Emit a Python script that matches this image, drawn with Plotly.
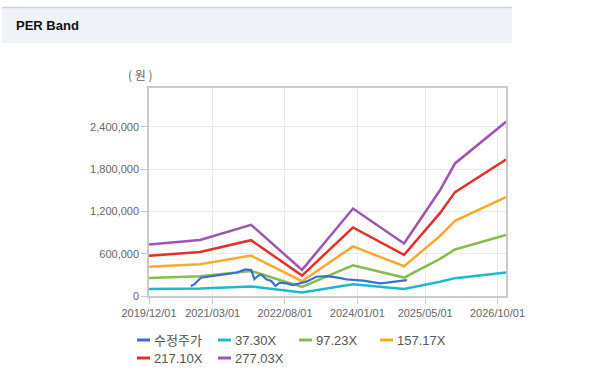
import plotly.graph_objects as go

# ---------------- data ----------------
band_dates = ["2019-12-01", "2020-12-01", "2021-12-01", "2022-12-01", "2023-12-01",
              "2024-12-01", "2025-08-15", "2025-12-01", "2026-12-01"]
per_37_30 = [98300, 107000, 136000, 49800, 167000, 100300, 202000, 253100, 332600]
per_97_23 = [256200, 279000, 354500, 129900, 435200, 261500, 526500, 659800, 866900]
per_157_17 = [414200, 451000, 573000, 209900, 703500, 422700, 851000, 1066600, 1401300]
per_217_10 = [572100, 623000, 791500, 290000, 971800, 583800, 1175500, 1473300, 1935700]
per_277_03 = [730000, 795000, 1010000, 370000, 1240000, 745000, 1500000, 1880000, 2470000]

price_dates = ["2020-09-26", "2020-10-20", "2020-12-07", "2021-03-13", "2021-05-11",
               "2021-08-16", "2021-10-22", "2021-12-02", "2021-12-25", "2022-01-18",
               "2022-02-12", "2022-03-20", "2022-04-25", "2022-05-25", "2022-06-23",
               "2022-08-10", "2022-09-27", "2022-11-14", "2023-01-01", "2023-03-14",
               "2023-05-25", "2023-08-05", "2023-10-16", "2024-02-13", "2024-06-12",
               "2024-07-30", "2024-12-21"]
price_values = [141000, 165000, 259000, 283000, 307000, 330000, 378000, 368000, 240000,
                283000, 307000, 236000, 212000, 141000, 189000, 180000, 156000, 180000,
                203000, 273000, 283000, 264000, 236000, 217000, 179000, 189000, 226000]

series_names = ["수정주가", "37.30X", "97.23X", "157.17X", "217.10X", "277.03X"]
series_colors = ["#3a6fd2", "#1cb8cf", "#86bd4c", "#fba92c", "#e2302a", "#9c55b1"]

x_tickvals = ["2019-12-01", "2021-03-01", "2022-08-01", "2024-01-01", "2025-05-01", "2026-10-01"]
x_ticktext = ["2019/12/01", "2021/03/01", "2022/08/01", "2024/01/01", "2025/05/01", "2026/10/01"]
y_tickvals = [0, 600000, 1200000, 1800000, 2400000]

# ---------------- layout geometry (pixels) ----------------
W, H = 613, 387
L, R, T, B = 149, 506, 88, 296


def px(x):
    return (x - L) / (R - L)


def py(y):
    return (B - y) / (B - T)


fig = go.Figure()
bands = [per_37_30, per_97_23, per_157_17, per_217_10, per_277_03]
for i, vals in enumerate(bands):
    fig.add_trace(go.Scatter(x=band_dates, y=vals, mode="lines", name=series_names[i + 1],
                             line=dict(color=series_colors[i + 1], width=2.5),
                             showlegend=False))
fig.add_trace(go.Scatter(x=price_dates, y=price_values, mode="lines", name=series_names[0],
                         line=dict(color=series_colors[0], width=2.2), showlegend=False))

shapes = []
annotations = []
# header band
shapes.append(dict(type="rect", xref="paper", yref="paper", x0=px(2), x1=px(512),
                   y0=py(43), y1=py(8), fillcolor="#eff3f8", line=dict(width=0), layer="below"))
shapes.append(dict(type="line", xref="paper", yref="paper", x0=px(2), x1=px(512),
                   y0=py(7.5), y1=py(7.5), line=dict(color="#d4d4d4", width=1.5)))
annotations.append(dict(text="<b>PER Band</b>", xref="paper", yref="paper", x=px(14), y=py(26),
                        xanchor="left", yanchor="middle", showarrow=False,
                        font=dict(family="Liberation Sans, Arial", size=13, color="#111111")))
annotations.append(dict(text="( 원 )", xref="paper", yref="paper", x=px(140), y=py(74),
                        xanchor="center", yanchor="middle", showarrow=False,
                        font=dict(family="Noto Sans CJK KR", size=12, color="#666666")))

# manual legend
legend_pos = [(137, 340), (218, 340), (299, 340), (380, 340), (137, 358), (218, 358)]
for name, color, (lx, ly) in zip(series_names, series_colors, legend_pos):
    shapes.append(dict(type="line", xref="paper", yref="paper", x0=px(lx), x1=px(lx + 13),
                       y0=py(ly), y1=py(ly), line=dict(color=color, width=3)))
    annotations.append(dict(text=name, xref="paper", yref="paper", x=px(lx + 15), y=py(ly),
                            xanchor="left", yanchor="middle", showarrow=False,
                            font=dict(family="Liberation Sans, Noto Sans CJK KR", size=13,
                                      color="#555555")))

axis_font = dict(family="Liberation Sans, Arial", size=11, color="#666666")
fig.update_layout(
    width=W, height=H,
    margin=dict(l=L, r=W - R, t=T, b=H - B, pad=0),
    paper_bgcolor="white", plot_bgcolor="white",
    showlegend=False,
    shapes=shapes, annotations=annotations,
    xaxis=dict(type="date", range=["2019-12-01", "2026-12-01"],
               tickvals=x_tickvals, ticktext=x_ticktext, tickfont=axis_font,
               showgrid=True, gridcolor="#e9e9e9", gridwidth=1,
               showline=True, linecolor="#c9c9c9", linewidth=1.5, mirror=True,
               ticks="outside", ticklen=6, tickcolor="#c9c9c9", zeroline=False),
    yaxis=dict(range=[0, 2950000], tickvals=y_tickvals, tickformat=",d", tickfont=axis_font,
               showgrid=True, gridcolor="#e9e9e9", gridwidth=1,
               showline=True, linecolor="#c9c9c9", linewidth=1.5, mirror=True,
               ticks="outside", ticklen=6, tickcolor="#c9c9c9", zeroline=False),
)

fig.write_html("out.html", config={"displayModeBar": False},
               post_script="document.body.style.margin='0';document.body.style.overflow='hidden';")
